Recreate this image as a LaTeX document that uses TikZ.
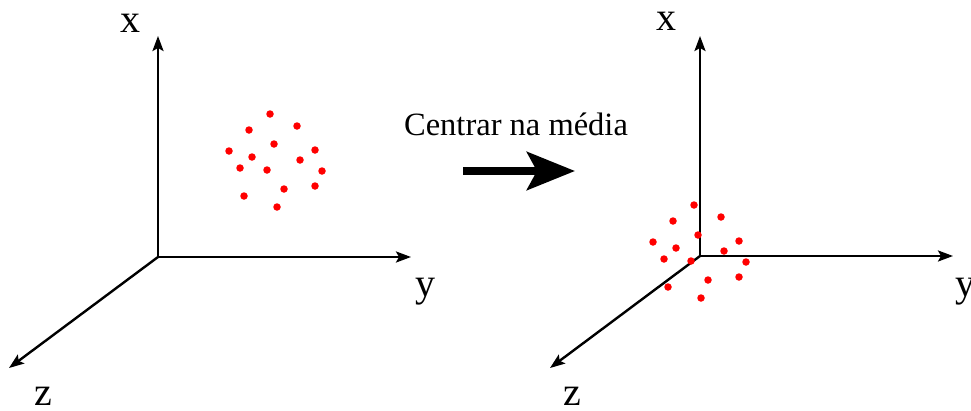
\documentclass[tikz,border=0pt]{standalone}
\usepackage{fontspec}
\setmainfont{Liberation Serif}
\usetikzlibrary{arrows.meta}
\tikzset{
  axis/.style={line width=2.4pt,-{Stealth[length=15pt,width=11pt,inset=3pt]}},
  axlabel/.style={anchor=base,inner sep=0pt,font=\fontsize{40}{42}\selectfont},
  pt/.style={circle,fill=red,inner sep=0pt,minimum size=7.5pt},
}
\begin{document}
\begin{tikzpicture}[x=1pt,y=-1pt]
\useasboundingbox (0,0) rectangle (971,410);
% left axes
\coordinate (oL) at (158,257);
\coordinate (xL) at (158,36);
\coordinate (yL) at (411,257);
\coordinate (zL) at (9,368);
\draw[axis] (oL) -- (xL);
\draw[axis] (oL) -- (yL);
\draw[axis] (oL) -- (zL);
\node[axlabel] (lxL) at (130,32) {x};
\node[axlabel] (lyL) at (425,296) {y};
\node[axlabel] (lzL) at (43,405) {z};
% right axes
\coordinate (oR) at (700,256);
\coordinate (xR) at (700,36);
\coordinate (yR) at (953,256);
\coordinate (zR) at (550,368);
\draw[axis] (oR) -- (xR);
\draw[axis] (oR) -- (yR);
\draw[axis] (oR) -- (zR);
\node[axlabel] (lxR) at (666,30) {x};
\node[axlabel] (lyR) at (965,296) {y};
\node[axlabel] (lzR) at (572,405) {z};
% point clouds
\foreach \px/\py [count=\i] in {270/114,297/126,249/130,274/144,229/151,315/150,252/157,300/160,240/168,267/170,322/171,315/186,284/189,244/196,277/207}{
  \node[pt] (a\i) at (\px,\py) {};
  \node[pt] (b\i) at (\px+424,\py+91) {};
}
% big arrow and label
\coordinate (s) at (463,171);
\coordinate (e) at (575,171);
\draw[line width=8pt,-{Stealth[length=48pt,width=38pt,inset=10pt]}] (s) -- (e);
\node[inner sep=0pt,font=\fontsize{32.5}{34}\selectfont] (t) at (516,124) {Centrar na média};
\end{tikzpicture}
\end{document}
